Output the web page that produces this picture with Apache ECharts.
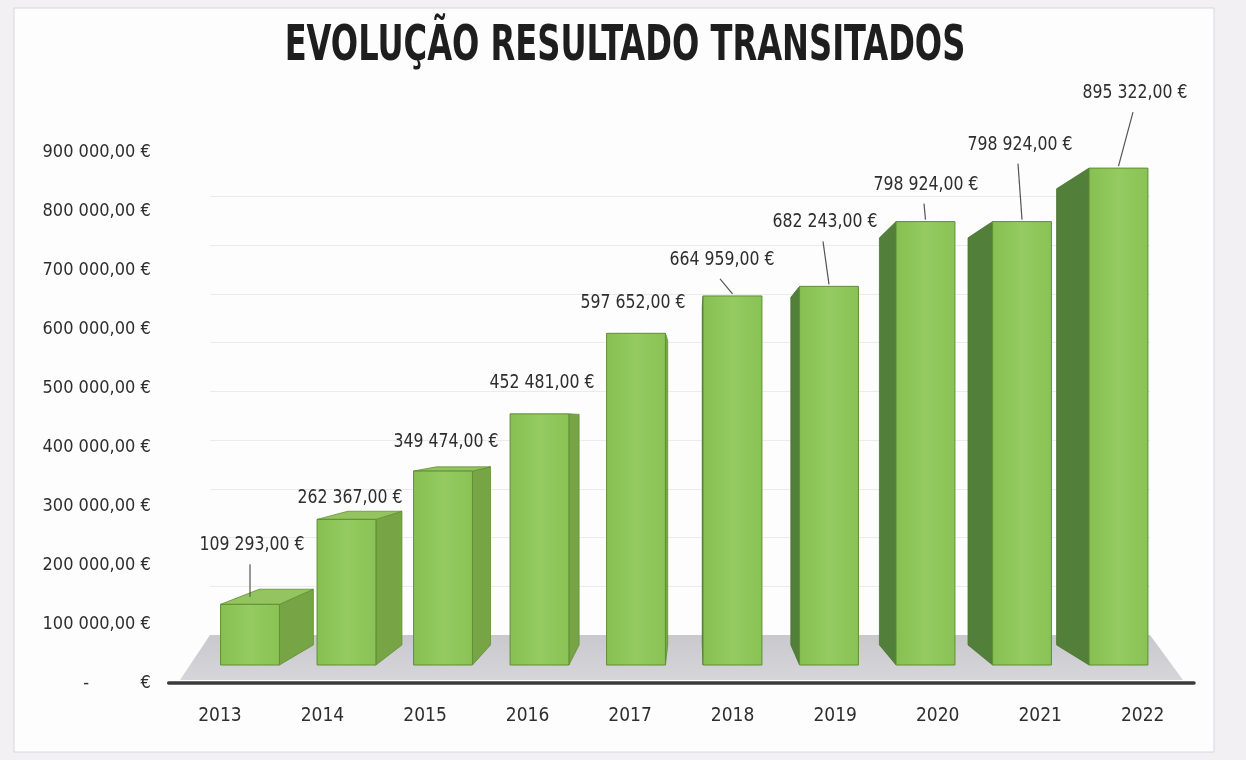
<!DOCTYPE html>
<html>
<head>
<meta charset="utf-8">
<title>Evolução Resultado Transitados</title>
<script src="https://cdn.jsdelivr.net/npm/echarts@6/dist/echarts.min.js"></script>
<style>
  html, body { margin: 0; padding: 0; background: #fff; }
  #chart { width: 1246px; height: 760px; }
</style>
</head>
<body>
<div id="chart"></div>
<script>
const YEARS = ["2013", "2014", "2015", "2016", "2017", "2018", "2019", "2020", "2021", "2022"];
const VALUES = [109293, 262367, 349474, 452481, 597652, 664959, 682243, 798924, 798924, 895322];
const Y_MIN = 0;
const Y_MAX = 900000;
const Y_STEP = 100000;

// where each data label sits, relative to the top of its bar (px)
const LABEL_DX = [2, 3.5, 3, 2.5, -3, -10.5, -4, 0.5, -2, 16.5];
const LABEL_DY = [-59, -21, -29, -31, -30, -36, -64, -37, -77, -75];
const HAS_LEADER = [true, false, false, false, false, true, true, true, true, true];

// fake 3D: back face is the front face shrunk toward a vanishing point
const VP = { x: 693, y: 420 };
const DEPTH = 0.918;
const FONT = "'DejaVu Sans Condensed', 'Liberation Sans Narrow', sans-serif";

function euro(v) {
  const s = String(Math.round(v)).replace(/\B(?=(\d{3})+(?!\d))/g, " ");
  return s + ",00 €";
}

function back(x, y) {
  return [VP.x + DEPTH * (x - VP.x), VP.y + DEPTH * (y - VP.y)];
}

function renderBar(params, api) {
  const i = api.value(0);
  const v = api.value(1);
  const top = api.coord([i, v]);
  const base = api.coord([i, 0]);
  const hw = api.size([1, 0])[0] * 0.305;
  const xl = top[0] - hw, xr = top[0] + hw, yt = top[1], yb = base[1];
  const kids = [];
  const edge = "#5f8f35";

  if (xr < VP.x) {
    kids.push({ type: "polygon", shape: { points: [[xr, yt], back(xr, yt), back(xr, yb), [xr, yb]] },
      style: { fill: "#77a546", stroke: edge, lineWidth: 0.8 } });
  } else if (xl > VP.x) {
    kids.push({ type: "polygon", shape: { points: [[xl, yt], back(xl, yt), back(xl, yb), [xl, yb]] },
      style: { fill: "#52803a", stroke: "#4a7530", lineWidth: 0.8 } });
  }
  let topY = yt - 2;
  if (yt > VP.y) {
    const bl = back(xl, yt), br = back(xr, yt);
    kids.push({ type: "polygon", shape: { points: [[xl, yt], [xr, yt], br, bl] },
      style: { fill: "#94c460", stroke: edge, lineWidth: 0.8 } });
    topY = (yt + bl[1]) / 2;
  }
  kids.push({ type: "rect", shape: { x: xl, y: yt, width: xr - xl, height: yb - yt },
    style: { fill: {
      type: "linear", x: 0, y: 0, x2: 1, y2: 0,
      colorStops: [
        { offset: 0, color: "#86bf52" }, { offset: 0.5, color: "#95cb60" }, { offset: 1, color: "#89c255" }
      ]
    }, stroke: edge, lineWidth: 1 } });

  const lx = top[0] + LABEL_DX[i];
  const ly = yt + LABEL_DY[i];
  if (HAS_LEADER[i]) {
    kids.push({ type: "line", shape: { x1: lx - 2, y1: ly + 19, x2: top[0], y2: topY },
      style: { stroke: "#555", lineWidth: 1.2 } });
  }
  kids.push({ type: "text", x: lx, y: ly, scaleX: 0.92, style: {
    text: euro(v), x: 0, y: 0, align: "center", verticalAlign: "middle",
    font: "19px " + FONT, fill: "#2e2e2e"
  } });
  return { type: "group", children: kids };
}

function renderFloor(params, api) {
  const cs = params.coordSys;
  const y0 = cs.y + cs.height;
  return {
    type: "polygon",
    shape: { points: [[cs.x, y0], [cs.x + cs.width, y0], [cs.x + cs.width + 33, y0 + 45], [cs.x - 30, y0 + 45]] },
    style: { fill: { type: "linear", x: 0, y: 0, x2: 0, y2: 1,
      colorStops: [{ offset: 0, color: "#c9c8cd" }, { offset: 1, color: "#d6d5da" }] } }
  };
}

const chart = echarts.init(document.getElementById("chart"), null, { renderer: "canvas" });

chart.setOption({
  backgroundColor: "#f2f0f2",
  animation: false,
  graphic: [
    { type: "rect", z: -10, shape: { x: 14, y: 8, width: 1200, height: 744 },
      style: { fill: "#fdfdfd", stroke: "#d8d6db", lineWidth: 1 } },
    { type: "text", x: 625, y: 47, scaleX: 0.715, z: 10, style: {
      text: "EVOLUÇÃO RESULTADO TRANSITADOS", x: 0, y: 0, align: "center", verticalAlign: "middle",
      font: "bold 50px " + FONT, fill: "#1e1e1e"
    } }
  ],
  grid: [
    { left: 168.7, right: 52, top: 152, bottom: 77 },
    { left: 201.75, right: 79.25, top: 165.5, bottom: 95 },
    { left: 210, right: 96, top: 196.5, bottom: 125 }
  ],
  xAxis: [
    { gridIndex: 0, type: "category", data: YEARS,
      axisLine: { lineStyle: { color: "#3a3a3a", width: 3.5 } },
      axisTick: { show: false },
      axisLabel: { margin: 24, fontFamily: FONT, fontSize: 19, color: "#2e2e2e" } },
    { gridIndex: 1, type: "category", data: YEARS, show: false },
    { gridIndex: 2, type: "category", data: YEARS, show: false }
  ],
  yAxis: [
    { gridIndex: 0, type: "value", min: Y_MIN, max: Y_MAX, interval: Y_STEP,
      axisLine: { show: false }, axisTick: { show: false }, splitLine: { show: false },
      axisLabel: { margin: 18, fontFamily: FONT, fontSize: 18, color: "#2e2e2e",
        formatter: v => v === 0 ? "-          €" : euro(v) } },
    { gridIndex: 1, type: "value", min: Y_MIN, max: Y_MAX, show: false },
    { gridIndex: 2, type: "value", min: Y_MIN, max: Y_MAX, interval: Y_STEP,
      axisLine: { show: false }, axisTick: { show: false }, axisLabel: { show: false },
      splitLine: { lineStyle: { color: "#ebebeb", width: 1 } } }
  ],
  series: [
    { type: "custom", name: "floor", xAxisIndex: 2, yAxisIndex: 2, silent: true,
      data: [[0, 0]], renderItem: renderFloor, z: 1 },
    { type: "custom", name: "Resultado transitado", xAxisIndex: 1, yAxisIndex: 1,
      data: VALUES.map((v, i) => [i, v]), encode: { x: 0, y: 1 },
      renderItem: renderBar, clip: false, z: 3 }
  ]
});
</script>
</body>
</html>
